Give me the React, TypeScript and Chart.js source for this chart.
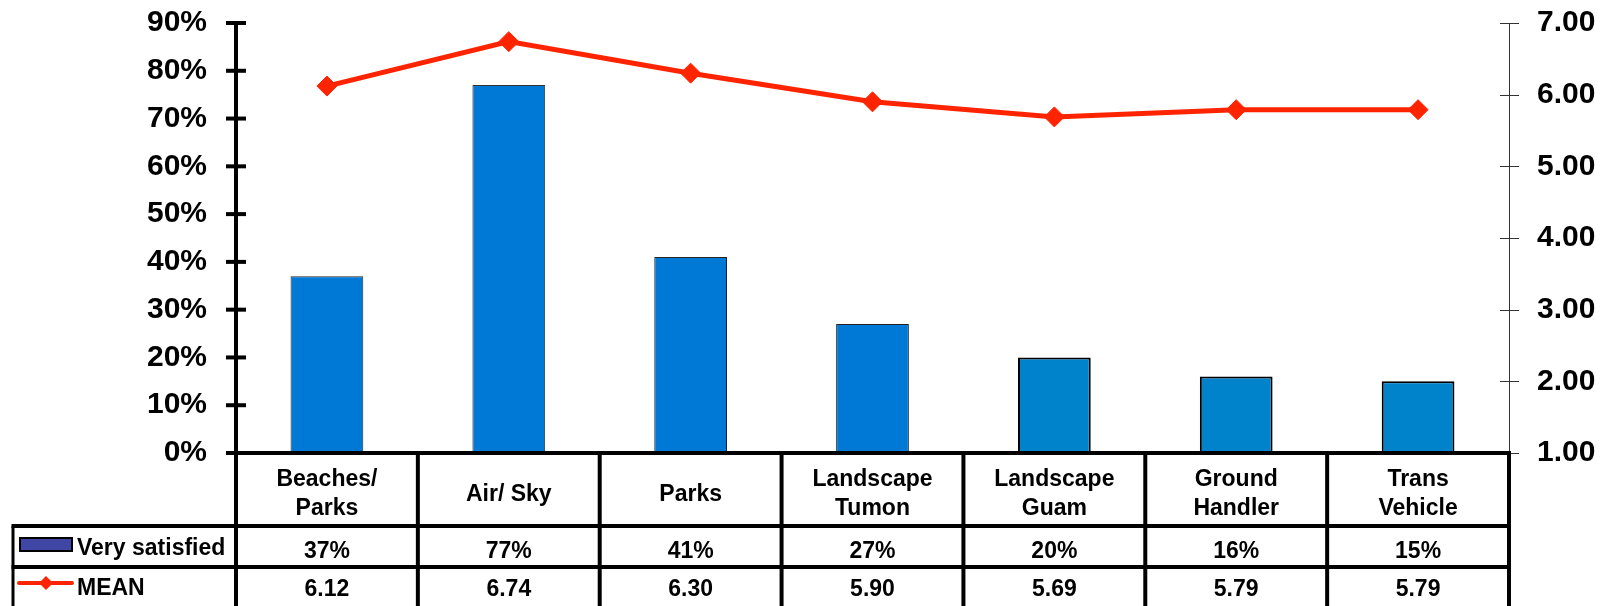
import React, { useEffect, useRef } from 'react';
import { Chart, registerables } from 'chart.js';

Chart.register(...registerables);

const categories: string[][] = [
  ['Beaches/', 'Parks'],
  ['Air/ Sky'],
  ['Parks'],
  ['Landscape', 'Tumon'],
  ['Landscape', 'Guam'],
  ['Ground', 'Handler'],
  ['Trans', 'Vehicle'],
];
const verySatisfied = [37, 77, 41, 27, 20, 16, 15];
const meanScores = [6.12, 6.74, 6.3, 5.9, 5.69, 5.79, 5.79];
const seriesNames = ['Very satisfied', 'MEAN'];

const barFill = ['#0079d6', '#0079d6', '#0079d6', '#0079d6', '#0083cb', '#0083cb', '#0083cb'];
const barBorder = ['#222222', '#333333', '#222222', '#222222', '#000000', '#000000', '#000000'];
const barBorderW = [1, 1, 1, 1, 2, 2, 2];
const lineColor = '#ff2400';
const legendBarColor = '#3f46a4';
const FONT = '"Liberation Sans", Arial, sans-serif';

const tablePlugin = {
  id: 'dataTable',
  afterDraw(chart: any) {
    const ctx: CanvasRenderingContext2D = chart.ctx;
    const area = chart.chartArea;
    const yl = chart.scales.y;
    const yr = chart.scales.y1;
    const n = categories.length;
    const step = (area.right - area.left) / n;
    const top = area.bottom;
    const row1 = top + 73;
    const row2 = row1 + 41;
    const bottom = chart.height;
    const legendLeft = 13;

    const line = (x1: number, y1: number, x2: number, y2: number) => {
      ctx.beginPath();
      ctx.moveTo(x1, y1);
      ctx.lineTo(x2, y2);
      ctx.stroke();
    };

    ctx.save();
    // right axis (thin)
    ctx.strokeStyle = '#333333';
    ctx.lineWidth = 1;
    line(area.right + 0.5, area.top, area.right + 0.5, area.bottom);
    yr.ticks.forEach((t: any) => {
      const py = Math.round(yr.getPixelForValue(t.value)) + 0.5;
      line(area.right - 9, py, area.right + 10, py);
    });

    // left axis (thick)
    ctx.strokeStyle = '#000000';
    ctx.lineWidth = 4;
    line(area.left, area.top, area.left, bottom);
    yl.ticks.forEach((t: any) => {
      const py = yl.getPixelForValue(t.value);
      line(area.left - 10, py, area.left + 10, py);
    });

    // table grid
    line(area.left, top, area.right + 2, top);
    line(legendLeft - 1.5, row1, area.right + 2, row1);
    line(legendLeft - 1.5, row2, area.right + 2, row2);
    for (let k = 1; k <= n; k++) {
      const px = area.left + k * step;
      line(px, top, px, bottom);
    }
    ctx.lineWidth = 3;
    line(legendLeft, row1, legendLeft, bottom);

    // texts
    ctx.fillStyle = '#000000';
    ctx.font = `bold 23px ${FONT}`;
    ctx.textAlign = 'center';
    ctx.textBaseline = 'middle';
    const x = chart.scales.x;
    categories.forEach((lines, i) => {
      const cx = x.getPixelForValue(i);
      const lh = 29;
      const cy = (top + row1) / 2 + 5;
      lines.forEach((s, j) => {
        ctx.fillText(s, cx, cy + (j - (lines.length - 1) / 2) * lh);
      });
      ctx.fillText(`${verySatisfied[i]}%`, cx, (row1 + row2) / 2 + 5);
      ctx.fillText(meanScores[i].toFixed(2), cx, row2 + 23);
    });

    // legend keys
    ctx.textAlign = 'left';
    ctx.fillText(seriesNames[0], 77, (row1 + row2) / 2 + 2);
    ctx.fillText(seriesNames[1], 77, row2 + 22);

    ctx.fillStyle = legendBarColor;
    ctx.fillRect(20, 538, 52, 13);
    ctx.strokeStyle = '#000000';
    ctx.lineWidth = 2;
    ctx.strokeRect(20, 538, 52, 13);

    const ly = row2 + 16;
    ctx.strokeStyle = lineColor;
    ctx.lineWidth = 4;
    ctx.lineCap = 'round';
    line(19, ly, 72, ly);
    ctx.fillStyle = lineColor;
    ctx.beginPath();
    ctx.moveTo(46, ly - 7);
    ctx.lineTo(53, ly);
    ctx.lineTo(46, ly + 7);
    ctx.lineTo(39, ly);
    ctx.closePath();
    ctx.fill();

    ctx.restore();
  },
};

export default function App() {
  const ref = useRef<HTMLCanvasElement | null>(null);

  useEffect(() => {
    if (!ref.current) return;
    const chart = new Chart(ref.current, {
      type: 'bar',
      data: {
        labels: categories,
        datasets: [
          {
            type: 'line',
            label: seriesNames[1],
            data: meanScores,
            yAxisID: 'y1',
            borderColor: lineColor,
            backgroundColor: lineColor,
            borderWidth: 5,
            pointStyle: 'rectRot',
            pointRadius: 10,
            pointBorderWidth: 1,
            pointBackgroundColor: lineColor,
            pointBorderColor: lineColor,
            tension: 0,
            order: 0,
          },
          {
            type: 'bar',
            label: seriesNames[0],
            data: verySatisfied,
            yAxisID: 'y',
            backgroundColor: barFill,
            borderColor: barBorder,
            borderWidth: barBorderW,
            barPercentage: 0.4,
            categoryPercentage: 1,
            order: 1,
          },
        ],
      },
      options: {
        responsive: false,
        animation: false,
        devicePixelRatio: 1,
        layout: { padding: { top: 0, bottom: 153, left: 0, right: 0 } },
        plugins: {
          legend: { display: false },
          tooltip: { enabled: false },
        },
        scales: {
          x: {
            display: false,
            offset: true,
          },
          y: {
            position: 'left',
            min: 0,
            max: 90,
            ticks: {
              stepSize: 10,
              padding: 29,
              color: '#000000',
              font: { family: FONT, size: 30, weight: 'bold' },
              callback: (v: any) => `${v}%`,
            },
            grid: { display: false, drawTicks: false },
            border: { display: false },
            afterFit: (s: any) => {
              s.width = 236;
              s.paddingTop = 23;
              s.paddingBottom = 0;
            },
          },
          y1: {
            position: 'right',
            min: 1,
            max: 7,
            ticks: {
              stepSize: 1,
              padding: 28,
              color: '#000000',
              font: { family: FONT, size: 30, weight: 'bold' },
              callback: (v: any) => Number(v).toFixed(2),
            },
            grid: { display: false, drawTicks: false },
            border: { display: false },
            afterFit: (s: any) => {
              s.width = 101;
              s.paddingTop = 23;
              s.paddingBottom = 0;
            },
          },
        },
      },
      plugins: [tablePlugin],
    } as any);
    return () => chart.destroy();
  }, []);

  return (
    <div style={{ position: 'absolute', left: 0, top: 0, width: 1610, height: 606, background: '#ffffff' }}>
      <canvas ref={ref} width={1610} height={606} style={{ display: 'block' }} />
    </div>
  );
}
